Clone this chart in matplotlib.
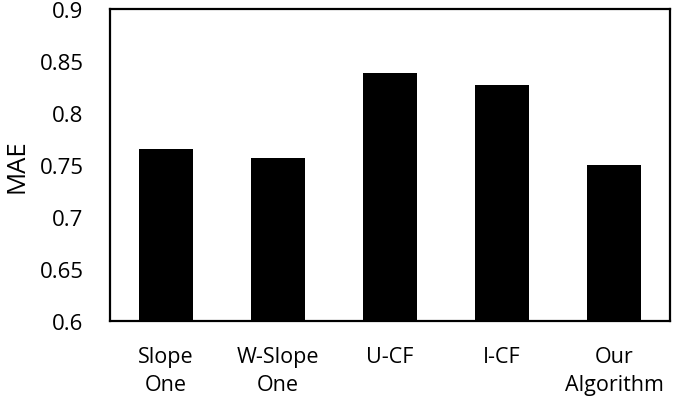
import matplotlib
matplotlib.use('Agg')
import matplotlib.pyplot as plt
import numpy as np

plt.rcParams['font.family'] = ['Open Sans', 'DejaVu Sans']

categories = ['Slope\nOne', 'W-Slope\nOne', 'U-CF', 'I-CF', 'Our\nAlgorithm']
mae = [0.765, 0.757, 0.838, 0.827, 0.750]

fig = plt.figure(figsize=(6.78, 4.02), dpi=100)
ax = fig.add_axes([110 / 678, 1 - 322 / 402, 560 / 678, 312 / 402])

xs = np.arange(len(categories))
ax.bar(xs, [v - 0.6 for v in mae], bottom=0.6, width=0.49, color='black')

ax.set_xlim(-0.5, len(categories) - 0.5)
ax.set_ylim(0.6, 0.9)
ax.set_yticks([0.6, 0.65, 0.7, 0.75, 0.8, 0.85, 0.9])
ax.set_yticklabels(['0.6', '0.65', '0.7', '0.75', '0.8', '0.85', '0.9'])
ax.set_xticks(xs)
ax.set_xticklabels(categories, linespacing=1.45)
ax.tick_params(axis='y', length=0, pad=19, labelsize=16)
ax.tick_params(axis='x', length=0, pad=18, labelsize=15.5)
ax.set_ylabel('MAE', fontsize=18.5, labelpad=7)

for s in ax.spines.values():
    s.set_linewidth(1.6)
    s.set_color('black')

fig.savefig('out.png', dpi=100)
